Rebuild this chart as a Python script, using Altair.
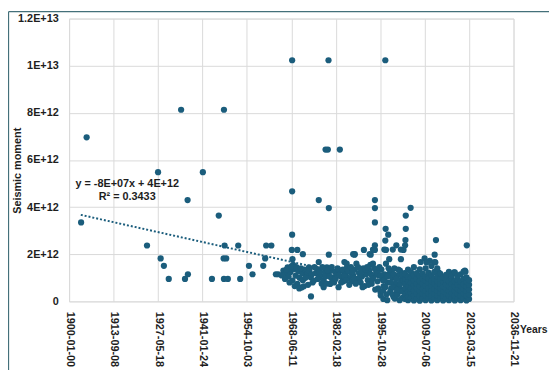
import altair as alt
import pandas as pd

# ---- data (moment values in units of 1E+12) ----
sparse_years = [1903.7, 1905.4, 1924.0, 1927.4, 1928.2, 1929.2, 1930.7, 1934.5, 1935.7, 1936.5,
                1936.6, 1941.2, 1944.0, 1946.1, 1947.7, 1947.9, 1947.6, 1948.4, 1947.7, 1948.9,
                1952.1, 1952.7, 1955.4, 1956.5, 1959.8, 1960.4, 1960.7, 1962.3, 1963.7, 1964.4,
                1968.7, 1979.9, 1997.4, 1979.0, 1979.7, 1983.4, 1968.7, 1976.9, 1980.0, 1994.2,
                1994.2, 1994.2, 2005.2, 2003.7, 2003.7, 1997.5, 1998.3, 1997.4, 1997.6, 2000.8,
                2003.6, 2003.5, 2003.0, 2013.0, 2022.5, 1968.7, 1968.6, 1970.3, 1980.0, 1987.9,
                1990.8, 1994.2, 1994.2, 1992.9, 2008.3, 2009.5, 2012.6, 2012.6, 1976.9, 1984.8,
                1974.5, 1971.6, 1972.3, 2022.1, 1968.8, 1972.0, 1988.0, 1993.6, 1997.1, 1999.7,
                2002.2, 1987.5, 1992.6, 2011.1, 2010.1, 2012.8, 2021.9, 2018.6, 2006.7, 2010.8,
                2013.8, 2016.3]
sparse_moments = [3.35, 6.96, 2.37, 5.48, 1.82, 1.51, 0.95, 8.13, 0.95, 4.30,
                  1.15, 5.48, 0.95, 3.64, 8.13, 2.37, 1.82, 1.82, 0.95, 0.95,
                  2.37, 0.95, 1.51, 1.15, 1.51, 1.82, 2.37, 2.37, 1.15, 1.15,
                  10.23, 10.23, 10.23, 6.44, 6.44, 6.44, 4.67, 4.30, 3.96, 4.30,
                  3.96, 3.35, 3.97, 3.64, 3.08, 3.08, 2.83, 2.58, 2.18, 2.38,
                  2.60, 2.38, 2.18, 2.60, 2.38, 2.83, 2.18, 2.18, 1.98, 1.98,
                  2.18, 2.38, 2.18, 1.98, 1.67, 1.82, 1.98, 1.67, 1.67, 1.67,
                  0.21, 0.59, 0.64, 1.26, 1.79, 2.00, 2.00, 2.20, 2.20, 2.20,
                  2.20, 2.00, 2.00, 1.72, 1.65, 1.65, 1.30, 1.23, 1.09, 1.09,
                  1.23, 1.09]

band_years = [1966.0, 1966.8, 1967.3, 1967.6, 1968.2, 1968.8, 1969.0, 1969.3, 1969.8, 1970.3,
              1970.6, 1971.0, 1971.8, 1972.5, 1973.0, 1973.4, 1973.9, 1974.4, 1975.0, 1975.4,
              1976.0, 1976.4, 1977.0, 1977.4, 1977.8, 1978.4, 1978.4, 1978.8, 1979.4, 1979.9,
              1980.4, 1980.6, 1981.0, 1981.4, 1982.0, 1982.4, 1983.0, 1983.5, 1984.0, 1984.5,
              1985.0, 1985.5, 1985.5, 1986.0, 1986.5, 1987.0, 1987.5, 1988.0, 1988.5, 1988.8,
              1989.3, 1989.8, 1990.2, 1990.6, 1991.0, 1991.5, 1992.0, 1992.4, 1992.8, 1993.2,
              1993.6, 1993.8, 1994.3, 1994.6, 1995.0, 1995.4, 1995.9, 1996.2, 1996.5, 1996.9,
              1997.2, 1997.6, 1997.8, 1998.2, 1998.6, 1998.8, 1999.2, 1999.5, 1999.9, 2000.2,
              2000.5, 2000.9, 2001.2, 2001.6, 2001.9, 2002.2, 2002.3, 2002.7, 2003.0, 2003.3,
              1996.0, 1996.8, 1998.0, 1998.9, 1999.6, 2000.3, 2001.1, 2001.8, 2002.5, 1995.2]
band_moments = [1.30, 1.20, 1.44, 1.05, 1.25, 0.88, 1.55, 1.37, 1.09, 0.74,
                1.28, 1.00, 1.20, 1.35, 1.10, 1.16, 1.44, 1.02, 0.80, 0.88,
                1.20, 1.37, 1.00, 1.09, 0.75, 0.88, 0.60, 1.25, 1.44, 1.16,
                0.74, 1.30, 0.95, 1.02, 1.25, 1.09, 0.60, 1.30, 1.02, 0.85,
                1.20, 1.40, 1.60, 1.00, 1.25, 0.85, 1.10, 1.35, 1.60, 0.95,
                1.20, 0.80, 1.05, 1.40, 0.65, 1.15, 0.90, 1.30, 1.55, 0.75,
                1.60, 1.05, 0.50, 1.25, 0.85, 1.10, 0.40, 1.35, 0.95, 0.65,
                1.15, 1.60, 0.30, 0.80, 1.79, 1.20, 0.55, 1.00, 0.20, 1.40,
                0.75, 0.35, 1.10, 0.60, 1.30, 1.79, 0.90, 0.15, 0.50, 1.20,
                0.25, 0.10, 0.05, 0.40, 0.30, 0.12, 0.28, 0.05, 0.42, 0.55]

band2_years = [1965.5, 1966.5, 1967.0, 1967.9, 1968.5, 1969.5, 1970.0, 1970.9, 1971.4, 1972.0,
               1972.8, 1973.6, 1974.0, 1974.8, 1975.6, 1976.6, 1977.2, 1978.0, 1978.9, 1979.2,
               1979.6, 1980.2, 1980.9, 1981.6, 1982.1, 1982.7, 1983.2, 1983.8, 1984.3, 1984.8,
               1985.3, 1985.9, 1986.3, 1986.8, 1987.3, 1987.8, 1988.3, 1989.0, 1989.5, 1990.0,
               1990.4, 1991.2, 1991.8, 1992.2, 1993.0, 1993.4, 1994.0, 1994.9, 1995.6, 1996.0,
               1996.7, 1997.0, 1997.4, 1998.0, 1998.4, 1999.0, 1999.4, 1999.8, 2000.0, 2000.7,
               2001.0, 2001.4, 2002.0, 2002.6, 2003.0]
band2_moments = [1.10, 0.95, 1.35, 0.80, 1.48, 0.65, 1.45, 0.55, 1.40, 0.90,
                 1.00, 0.70, 1.30, 1.15, 1.45, 0.95, 1.25, 1.45, 1.05, 0.75,
                 1.30, 1.05, 1.45, 0.80, 0.95, 1.40, 1.10, 0.80, 1.35, 1.05,
                 0.90, 1.30, 0.70, 1.45, 1.25, 0.95, 0.75, 1.45, 1.00, 1.25,
                 0.60, 1.35, 1.45, 0.70, 1.15, 0.95, 1.40, 1.20, 1.45, 1.10,
                 0.45, 0.90, 0.60, 1.05, 1.40, 0.80, 1.30, 0.60, 1.15, 0.95,
                 0.50, 1.35, 0.75, 1.10, 0.90]

block_years = [2003.5, 2004.4, 2005.3, 2006.2, 2007.1, 2008.0, 2008.9, 2009.8, 2010.7, 2011.6,
               2012.5, 2013.4, 2014.3, 2015.2, 2016.1, 2017.0, 2017.9, 2018.8, 2019.7, 2020.6,
               2021.5, 2022.4, 2023.2]
block_moments = [
    [0.10, 0.31, 0.55, 0.74, 0.96, 1.15],
    [0.05, 0.22, 0.43, 0.65, 0.86, 1.04, 1.35],
    [0.15, 0.36, 0.55, 0.79, 1.00, 1.24],
    [0.04, 0.25, 0.46, 0.68, 0.90, 1.11, 1.45],
    [0.12, 0.33, 0.56, 0.75, 0.97, 1.20],
    [0.03, 0.22, 0.44, 0.64, 0.86, 1.08, 1.36],
    [0.12, 0.32, 0.52, 0.74, 0.95, 1.18],
    [0.05, 0.26, 0.45, 0.66, 0.88, 1.05, 1.40],
    [0.14, 0.34, 0.56, 0.78, 0.98, 1.22],
    [0.04, 0.24, 0.44, 0.66, 0.86, 1.10, 1.50],
    [0.12, 0.32, 0.54, 0.76, 0.96, 1.25],
    [0.05, 0.25, 0.45, 0.65, 0.85, 1.05, 1.40],
    [0.14, 0.34, 0.55, 0.75, 0.95, 1.18],
    [0.04, 0.24, 0.44, 0.64, 0.84, 1.02],
    [0.12, 0.32, 0.52, 0.72, 0.92, 1.12],
    [0.05, 0.25, 0.45, 0.65, 0.85, 1.25],
    [0.14, 0.34, 0.54, 0.74, 0.95, 1.10],
    [0.04, 0.24, 0.44, 0.64, 0.85, 1.23],
    [0.12, 0.32, 0.52, 0.72, 0.92, 1.08],
    [0.05, 0.25, 0.45, 0.65, 0.85, 1.15],
    [0.12, 0.32, 0.52, 0.72, 0.95, 1.26],
    [0.04, 0.24, 0.44, 0.64, 0.84, 1.02],
    [0.10, 0.30, 0.50, 0.70, 0.90],
]

trend_years = [1903.6, 2023.0]
trend_moments = [3.67, 0.0]

x_tick_labels = ["1900-01-00", "1913-09-08", "1927-05-18", "1941-01-24", "1954-10-03",
                 "1968-06-11", "1982-02-18", "1995-10-28", "2009-07-06", "2023-03-15",
                 "2036-11-21"]
y_tick_values = [0, 2, 4, 6, 8, 10, 12]
y_tick_labels = ["0", "2E+12", "4E+12", "6E+12", "8E+12", "1E+13", "1.2E+13"]

equation_text = "y = -8E+07x + 4E+12"
r2_text = "R² = 0.3433"

# ---- build tables ----
rows = [{"year": y, "m": v} for y, v in zip(sparse_years, sparse_moments)]
rows += [{"year": y, "m": v} for y, v in zip(band_years, band_moments)]
rows += [{"year": y, "m": v} for y, v in zip(band2_years, band2_moments)]
for y, vals in zip(block_years, block_moments):
    rows += [{"year": y, "m": v} for v in vals]
points = pd.DataFrame(rows)
trend = pd.DataFrame({"year": trend_years, "m": trend_moments})

# Excel date serial ticks every 5000 days
x_tick_values = [1900 + k * 5000 / 365.25 for k in range(len(x_tick_labels))]
x_domain = [x_tick_values[0], x_tick_values[-1]]

x_expr = ""
for v, lab in zip(x_tick_values, x_tick_labels):
    x_expr += f"abs(datum.value - {v:.4f}) < 0.5 ? '{lab}' : "
x_expr += "''"
y_expr = ""
for v, lab in zip(y_tick_values, y_tick_labels):
    y_expr += f"abs(datum.value - {v}) < 0.01 ? '{lab}' : "
y_expr += "''"

FONT = "Liberation Sans"
TXT = "#1e1e1e"
COL = "#1b5d7c"

x_enc = alt.X("year:Q", scale=alt.Scale(domain=x_domain, nice=False, zero=False),
              axis=alt.Axis(values=x_tick_values, labelExpr=x_expr, labelAngle=90,
                            labelAlign="left", labelBaseline="middle", labelPadding=10,
                            labelFont=FONT, labelFontSize=11, labelFontWeight="bold",
                            labelColor=TXT, labelOverlap=False, labelFlush=False,
                            ticks=False, domain=False, grid=True, gridColor="#d9d9d9",
                            title="Years", titleX=457, titleY=29, titleAlign="left",
                            titleBaseline="middle", titleAngle=0, titleFont=FONT,
                            titleFontSize=10.5, titleFontWeight="bold", titleColor=TXT))
y_enc = alt.Y("m:Q", scale=alt.Scale(domain=[0, 12], nice=False),
              axis=alt.Axis(values=y_tick_values, labelExpr=y_expr, labelPadding=11,
                            labelFont=FONT, labelFontSize=11, labelFontWeight="bold",
                            labelColor=TXT, ticks=False, domain=False, grid=True,
                            gridColor="#d9d9d9", title="Seismic moment", titleX=-52,
                            titleY=154, titleAlign="center", titleBaseline="middle",
                            titleFont=FONT, titleFontSize=11, titleFontWeight="bold",
                            titleColor=TXT))

trend_layer = alt.Chart(trend).mark_line(color=COL, strokeWidth=2, strokeDash=[2, 2]).encode(
    x=x_enc, y=y_enc)

point_layer = alt.Chart(points).mark_circle(color=COL, size=40, opacity=1).encode(
    x="year:Q", y="m:Q")

ann = pd.DataFrame({"year": [1917.9, 1917.9], "m": [4.97, 4.42], "t": [equation_text, r2_text]})
ann_layer = alt.Chart(ann).mark_text(font=FONT, fontSize=11, fontWeight="bold", color=TXT,
                                     align="center", baseline="middle").encode(
    x="year:Q", y="m:Q", text="t:N")

one = pd.DataFrame({"a": [0]})
border_v = alt.Chart(one).mark_rule(color="#44707a", strokeWidth=1.3).encode(
    x=alt.value(-61.5), y=alt.value(-7), y2=alt.value(420))
border_h = alt.Chart(one).mark_rule(color="#44707a", strokeWidth=1.3).encode(
    x=alt.value(-61.5), x2=alt.value(600), y=alt.value(-7))

chart = alt.layer(trend_layer, point_layer, ann_layer, border_v, border_h).properties(
    width=451, height=287,
    autosize=alt.AutoSizeParams(type="none"),
    padding={"left": 62, "top": 8, "right": 36, "bottom": 70},
).configure_view(stroke=None).configure(background="white")

chart.save("out.html", embed_options={"renderer": "svg", "actions": False})
